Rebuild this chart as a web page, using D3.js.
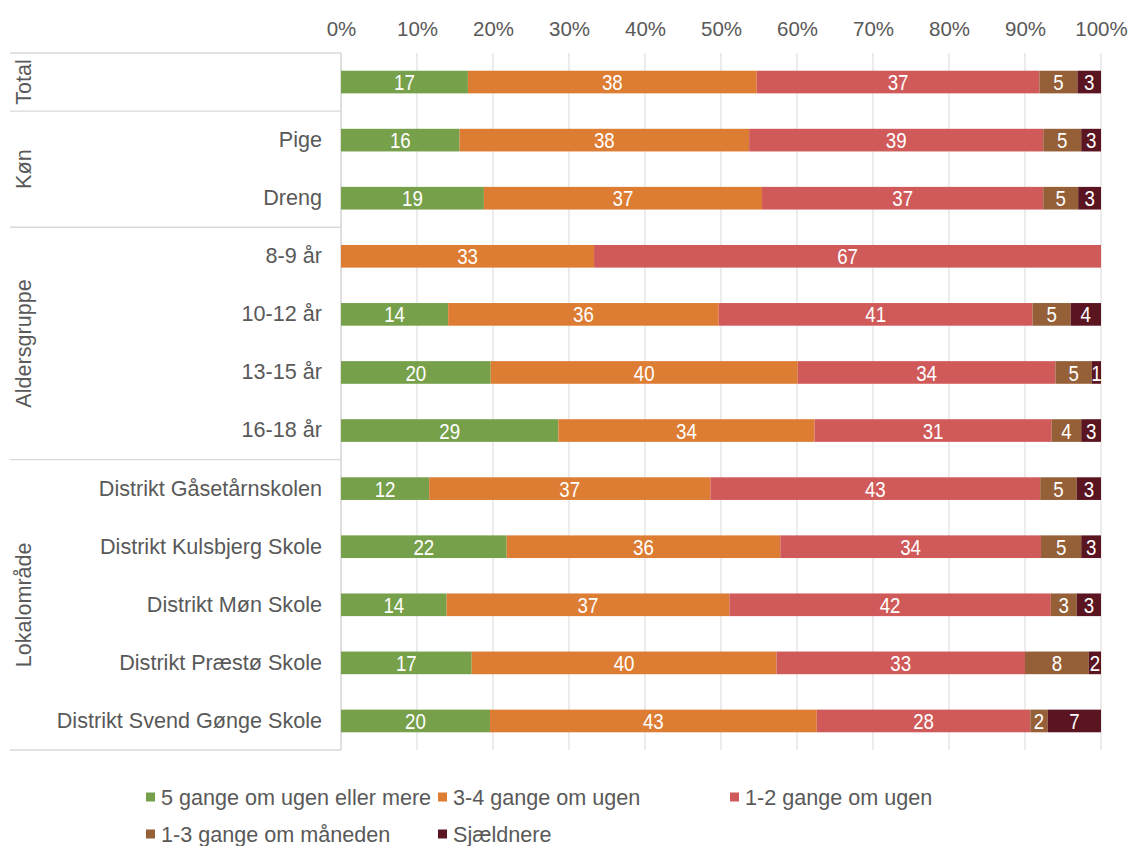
<!DOCTYPE html>
<html><head><meta charset="utf-8">
<script src="https://cdn.jsdelivr.net/npm/d3@7"></script>
<style>
body{margin:0;background:#fff;}
text{font-family:"Liberation Sans",Arial,sans-serif;}
</style></head>
<body>
<svg id="chart" width="1131" height="846"></svg>
<script>
const rowLabels = ["", "Pige", "Dreng", "8-9 år", "10-12 år", "13-15 år", "16-18 år",
  "Distrikt Gåsetårnskolen", "Distrikt Kulsbjerg Skole", "Distrikt Møn Skole",
  "Distrikt Præstø Skole", "Distrikt Svend Gønge Skole"];
const groupNames = ["Total", "Køn", "Aldersgruppe", "Lokalområde"];
const groupSizes = [1, 2, 4, 5];
const seriesNames = ["5 gange om ugen eller mere", "3-4 gange om ugen", "1-2 gange om ugen",
  "1-3 gange om måneden", "Sjældnere"];
const seriesColors = ["#77A04B", "#DD7C33", "#D05A59", "#956038", "#5A1520"];
const s5gange   = [16.7, 15.6, 18.8, 0,    14.1, 19.7, 28.6, 11.6, 21.8, 13.9, 17.2, 19.6];
const s3til4    = [38.0, 38.1, 36.6, 33.3, 35.6, 40.4, 33.7, 37.0, 36.0, 37.2, 40.1, 43.0];
const s1til2    = [37.2, 38.7, 37.0, 66.7, 41.3, 33.9, 31.2, 43.4, 34.3, 42.3, 32.7, 28.1];
const sMaaned   = [5.0,  5.0,  4.6,  0,    5.0,  4.8,  3.9,  4.8,  5.3,  3.4,  8.4,  2.3];
const sSjaelden = [3.1,  2.6,  3.0,  0,    4.0,  1.2,  2.6,  3.2,  2.6,  3.2,  1.6,  7.0];
const tickValues = [0, 10, 20, 30, 40, 50, 60, 70, 80, 90, 100];

(function () {
const seriesValues = [s5gange, s3til4, s1til2, sMaaned, sSjaelden];
const rows = rowLabels.map((l, i) => {
  const o = {idx: i};
  seriesNames.forEach((s, k) => o[s] = seriesValues[k][i]);
  return o;
});

const svg = d3.select("#chart");
const pL = 341, pR = 1101, pT = 53, pB = 750;
const x = d3.scaleLinear().domain([0, 100]).range([pL, pR]);
const y = d3.scaleBand().domain(rows.map(r => r.idx)).range([pT, pB])
  .paddingInner(0.61).paddingOuter(0.305);
const step = y.step();
const grey = "#D9D9D9", textCol = "#595959";

// gridlines
svg.append("g").selectAll("line").data(tickValues).join("line")
  .attr("x1", d => x(d)).attr("x2", d => x(d)).attr("y1", pT).attr("y2", pB)
  .attr("stroke", grey).attr("stroke-width", 1);

// group separators
let acc = 0;
const bounds = [0];
groupSizes.forEach(s => { acc += s; bounds.push(acc); });
svg.append("g").selectAll("line").data(bounds).join("line")
  .attr("x1", 10).attr("x2", pL).attr("y1", d => pT + d * step).attr("y2", d => pT + d * step)
  .attr("stroke", grey).attr("stroke-width", 1.3);
svg.append("line").attr("x1", pL).attr("x2", pL).attr("y1", pT).attr("y2", pB)
  .attr("stroke", grey).attr("stroke-width", 1.3);

// top axis
const xAxis = d3.axisTop(x).tickValues(tickValues).tickFormat(d => d + "%").tickSize(0).tickPadding(17);
const gx = svg.append("g").attr("transform", `translate(0,${pT})`).call(xAxis);
gx.select(".domain").remove();
gx.selectAll("text").attr("fill", textCol).style("font-size", "20.5px")
  .style("font-family", '"Liberation Sans", Arial, sans-serif');

// left axis
const yAxis = d3.axisLeft(y).tickFormat(i => rowLabels[i]).tickSize(0).tickPadding(19);
const gy = svg.append("g").attr("transform", `translate(${pL},0)`).call(yAxis);
gy.select(".domain").remove();
gy.selectAll("text").attr("fill", textCol).style("font-size", "21.6px")
  .style("font-family", '"Liberation Sans", Arial, sans-serif');

// group labels
svg.append("g").selectAll("text").data(groupNames).join("text")
  .attr("transform", (d, i) => `translate(23,${pT + (bounds[i] + bounds[i + 1]) / 2 * step}) rotate(-90)`)
  .attr("text-anchor", "middle").attr("dominant-baseline", "central")
  .attr("fill", textCol).style("font-size", "21.6px").text(d => d);

// stacked bars
const stacked = d3.stack().keys(seriesNames)(rows);
const layers = svg.append("g").selectAll("g").data(stacked).join("g")
  .attr("fill", (d, i) => seriesColors[i]);
layers.selectAll("rect").data(d => d).join("rect")
  .attr("x", d => x(d[0])).attr("width", d => x(d[1]) - x(d[0]))
  .attr("y", d => y(d.data.idx)).attr("height", y.bandwidth());

const labelsG = svg.append("g");
stacked.forEach(layer => {
  labelsG.append("g").selectAll("text").data(layer.filter(d => d[1] - d[0] > 0)).join("text")
    .attr("transform", d => `translate(${(x(d[0]) + x(d[1])) / 2},${y(d.data.idx) + y.bandwidth() / 2 + 0.5}) scale(0.85,1)`)
    .attr("text-anchor", "middle").attr("dominant-baseline", "central")
    .attr("fill", "#fff")
    .style("font-size", "22px")
    .text(d => Math.round(d[1] - d[0]));
});

// legend
const legCols = 3, legColW = 292, legX = 146, legY = 797, legRowH = 37;
const leg = svg.append("g").selectAll("g").data(seriesNames).join("g")
  .attr("transform", (d, i) => `translate(${legX + (i % legCols) * legColW},${legY + Math.floor(i / legCols) * legRowH})`);
leg.append("rect").attr("x", 0).attr("y", -4.5).attr("width", 9).attr("height", 9)
  .attr("fill", (d, i) => seriesColors[i]);
leg.append("text").attr("x", 15).attr("y", 0.5).attr("dominant-baseline", "central")
  .attr("fill", textCol).style("font-size", "21.6px").text(d => d);
})();
</script>
</body></html>
